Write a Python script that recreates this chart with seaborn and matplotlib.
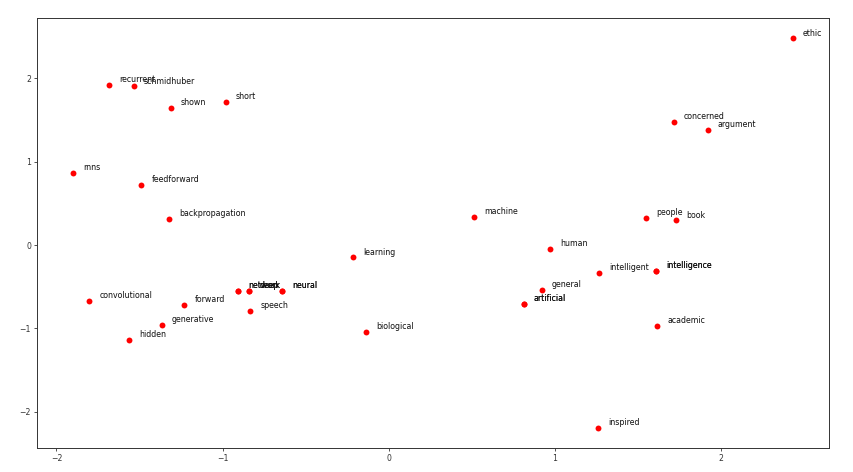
import matplotlib
matplotlib.use("Agg")
import matplotlib.pyplot as plt
import seaborn as sns
import pandas as pd

sns.set_style("white")
plt.rcParams['font.family'] = ['DejaVu Sans']

words = ["ethic", "recurrent", "schmidhuber", "shown", "short", "concerned", "argument",
         "rnns", "feedforward", "backpropagation", "machine", "people", "book", "human",
         "learning", "intelligent", "intelligence", "intelligence", "general",
         "artificial", "artificial", "convolutional", "forward", "network", "network",
         "deep", "deep", "neural", "neural", "speech", "generative", "biological",
         "academic", "hidden", "inspired"]
x_vals = [2.430, -1.683, -1.535, -1.312, -0.981, 1.714, 1.919,
          -1.898, -1.489, -1.323, 0.513, 1.548, 1.728, 0.968,
          -0.214, 1.263, 1.608, 1.608, 0.920,
          0.812, 0.812, -1.802, -1.232, -0.906, -0.906,
          -0.841, -0.841, -0.644, -0.644, -0.833, -1.366, -0.137,
          1.614, -1.561, 1.257]
y_vals = [2.480, 1.923, 1.904, 1.647, 1.716, 1.476, 1.383,
          0.864, 0.723, 0.312, 0.336, 0.328, 0.296, -0.044,
          -0.148, -0.336, -0.312, -0.312, -0.536,
          -0.704, -0.704, -0.672, -0.716, -0.555, -0.555,
          -0.548, -0.548, -0.548, -0.548, -0.792, -0.960, -1.047,
          -0.972, -1.143, -2.192]
x_ticks = [-2, -1, 0, 1, 2]
y_ticks = [-2, -1, 0, 1, 2]

df = pd.DataFrame({"word": words, "x": x_vals, "y": y_vals})

fig = plt.figure(figsize=(8.54, 4.72), dpi=100)
ax = fig.add_axes([37.3 / 854, 1 - 447.7 / 472, (829 - 37.3) / 854, (447.7 - 18.3) / 472])

sns.scatterplot(data=df, x="x", y="y", color="red", s=18, linewidth=0, ax=ax)
for w, xv, yv in zip(df["word"], df["x"], df["y"]):
    ax.annotate(w, xy=(xv, yv), xytext=(7.4, 2.0), textcoords="offset points",
                fontsize=5.7, color="#111111")

ax.set_xlim(-2.115, 2.649)
ax.set_ylim(-2.432, 2.720)
ax.set_xticks(x_ticks)
ax.set_yticks(y_ticks)
ax.set_xlabel("")
ax.set_ylabel("")
ax.tick_params(axis="both", labelsize=5.6, length=2.5, width=0.6, colors="#333333",
               bottom=True, left=True, pad=2)
for sp in ax.spines.values():
    sp.set_color("#333333")
    sp.set_linewidth(0.7)

fig.savefig("out.png", dpi=100)
